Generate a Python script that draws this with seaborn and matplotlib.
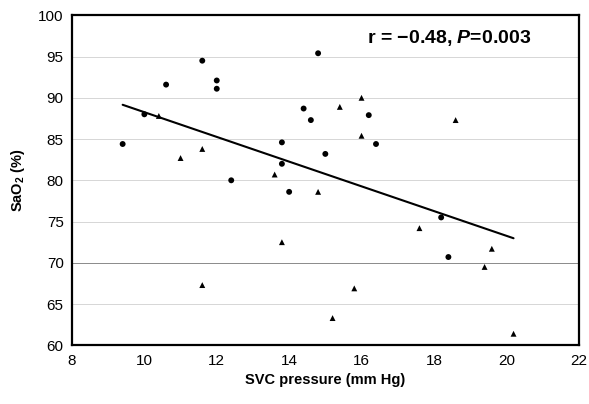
import matplotlib.pyplot as plt
import numpy as np
import pandas as pd
import seaborn as sns

# circles
circle_x = [9.4, 10.0, 10.6, 11.6, 12.0, 12.0, 12.4, 13.8, 13.8, 14.0,
            14.4, 14.6, 14.8, 15.0, 16.2, 16.4, 18.2, 18.4]
circle_y = [84.4, 88.0, 91.6, 94.5, 92.1, 91.1, 80.0, 84.6, 82.0, 78.6,
            88.7, 87.3, 95.4, 83.2, 87.9, 84.4, 75.5, 70.7]
# triangles
tri_x = [10.4, 11.0, 11.6, 11.6, 13.6, 13.8, 14.8, 15.2, 15.4, 15.8,
         16.0, 16.0, 17.6, 18.6, 19.4, 19.6, 20.2]
tri_y = [87.8, 82.7, 83.8, 67.3, 80.7, 72.5, 78.6, 63.3, 88.9, 66.9,
         90.0, 85.4, 74.2, 87.3, 69.5, 71.7, 61.4]

df = pd.DataFrame({
    "svc": circle_x + tri_x,
    "sao2": circle_y + tri_y,
    "group": ["circle"] * len(circle_x) + ["triangle"] * len(tri_x),
})

sns.set_theme(style="white")
plt.rcParams["font.family"] = ["Liberation Sans", "DejaVu Sans"]
plt.rcParams["text.color"] = "black"
plt.rcParams["axes.labelcolor"] = "black"
plt.rcParams["mathtext.fontset"] = "custom"
plt.rcParams["mathtext.it"] = "Liberation Sans:italic:bold"
plt.rcParams["mathtext.rm"] = "Liberation Sans:bold"

fig = plt.figure(figsize=(5.89, 4.04), dpi=100)
ax = fig.add_axes([0.1222, 0.1453, 0.8603, 0.8168])

# faint scanned-looking grid
for yv in [65, 70, 75, 80, 85, 90, 95]:
    ax.axhline(yv, color="#8a8a8a" if yv == 70 else "#d6d6d6", lw=0.7, zorder=0)

sns.scatterplot(data=df, x="svc", y="sao2", style="group",
                markers={"circle": "o", "triangle": "^"},
                color="black", s=18, edgecolor="black", linewidth=0,
                legend=False, ax=ax)
sns.regplot(data=df, x="svc", y="sao2", scatter=False, ci=None, truncate=True,
            line_kws={"color": "black", "lw": 1.5}, ax=ax)

ax.text(0.582, 0.93, "r = \u22120.48, $P$=0.003", transform=ax.transAxes,
        fontsize=14, fontweight="bold", ha="left", va="center", color="black")

ax.set_xlim(8, 22)
ax.set_ylim(60, 100)
ax.set_xticks(range(8, 23, 2))
ax.set_yticks(range(60, 101, 5))
ax.tick_params(length=0, labelsize=11, colors="black", pad=6)
ax.set_xlabel("SVC pressure (mm Hg)", fontsize=10.5, fontweight="bold", labelpad=4)
ax.set_ylabel("SaO$_2$ (%)", fontsize=10.5, fontweight="bold", labelpad=8)
for s in ax.spines.values():
    s.set_color("black")
    s.set_linewidth(1.6)

fig.savefig("out.png", dpi=100)
